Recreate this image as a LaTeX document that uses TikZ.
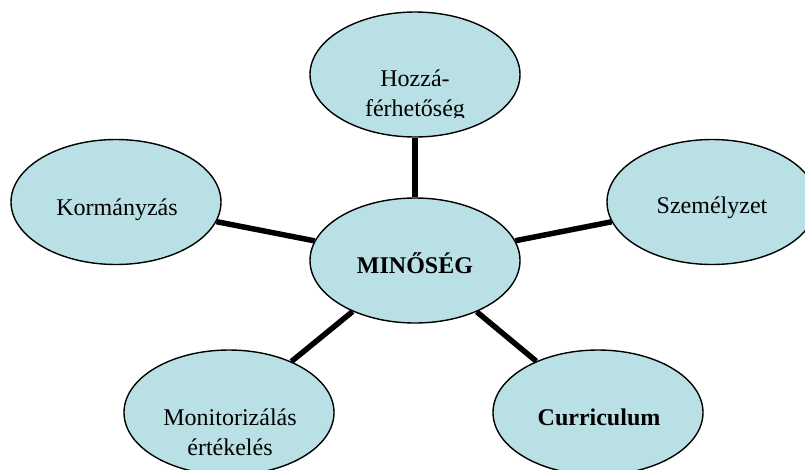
\documentclass[tikz,border=0pt]{standalone}
\usepackage{fontspec}
\setmainfont{Liberation Serif}
\usetikzlibrary{shapes.geometric}
\definecolor{bubble}{RGB}{185,224,228}
\begin{document}
\begin{tikzpicture}[x=1pt,y=-1pt,
  bub/.style={ellipse,draw=black,line width=1.4pt,fill=bubble,minimum width=210pt,minimum height=125pt,inner sep=0pt},
  conn/.style={draw=black,line width=5.5pt},
  lbl/.style={font=\fontsize{24}{30}\selectfont,align=center,inner sep=0pt,text=black}]
\useasboundingbox (0,0) rectangle (805,469);
\clip (0,0) rectangle (805,469);
\node[bub] (top) at (415,74.5) {};
\node[bub] (gov) at (116,202) {};
\node[bub] (staff) at (712,202) {};
\node[bub] (mid) at (415,260.5) {};
\node[bub] (mon) at (229,412.5) {};
\node[bub] (cur) at (598,412.5) {};
\draw[conn] (mid) -- (top);
\draw[conn] (mid) -- (gov);
\draw[conn] (mid) -- (staff);
\draw[conn] (mid) -- (mon);
\draw[conn] (mid) -- (cur);
\begin{scope}
\clip (300,0) rectangle (530,117);
\node[lbl] (ttop) at (415,96) {Hozzá-\\férhetőség};
\end{scope}
\node[lbl] (tgov) at (117,210) {Kormányzás};
\node[lbl] (tstaff) at (712,208) {Személyzet};
\node[lbl,font=\fontsize{24}{30}\selectfont\bfseries] (tmid) at (415,263) {MINŐSÉG};
\node[lbl] (tmon) at (230,432) {Monitorizálás\\értékelés};
\node[lbl,font=\fontsize{24}{30}\selectfont\bfseries] (tcur) at (599,417) {Curriculum};
\end{tikzpicture}
\end{document}
